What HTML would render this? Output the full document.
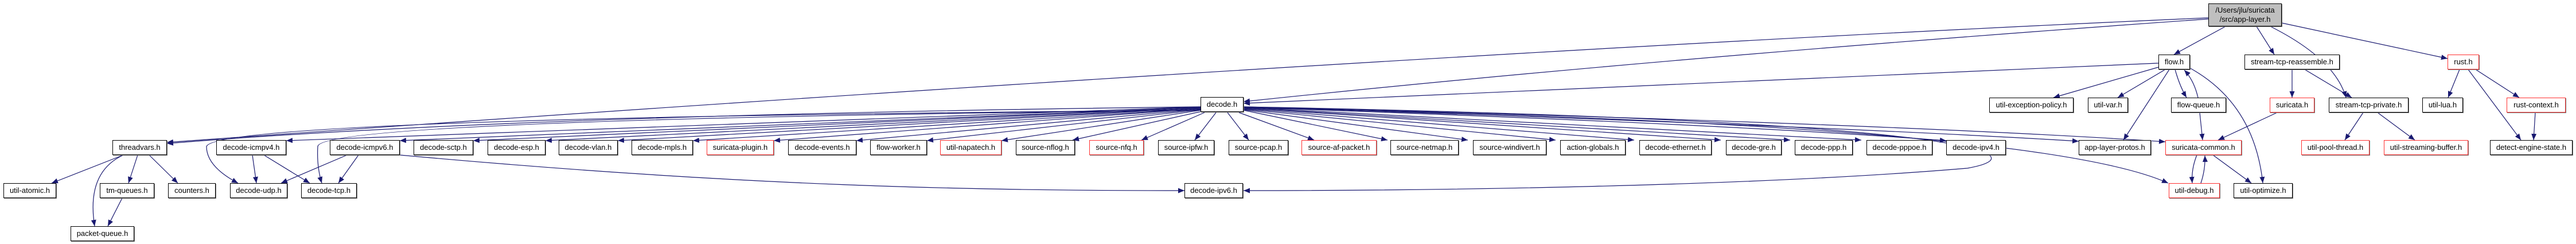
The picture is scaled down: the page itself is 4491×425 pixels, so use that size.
<!DOCTYPE html>
<html><head><meta charset="utf-8"><style>
html,body{margin:0;padding:0;background:#fff}
#c{position:relative;width:4491px;height:425px;overflow:hidden;background:#fff}
.n{position:absolute;box-sizing:border-box;border:1px solid #000;background:#fff;font-family:"Liberation Sans",sans-serif;font-size:13px;color:#000;text-align:center;line-height:24px;height:26px;white-space:nowrap;box-shadow:1px 1px 0 #777}
.r{border-color:#ff3030}
svg{position:absolute;left:0;top:0}
</style></head><body><div id="c">
<svg width="4491" height="425" viewBox="0 0 4491 425">
<defs><marker id="a" markerUnits="userSpaceOnUse" markerWidth="12" markerHeight="10" refX="11" refY="4.5" orient="auto"><path d="M0,0 L11,4.5 L0,9 z" fill="#191970"/></marker></defs>
<g fill="none" stroke="#191970" stroke-width="1.2" marker-end="url(#a)">
<!-- top node -->
<path d="M3851,31 Q2500,90 291,248"/>
<path d="M3851,33 Q2900,100 2168,177"/>
<path d="M3880,46 L3790,95"/>
<path d="M3934,46 L3965,95"/>
<path d="M3950,42 Q4070,100 4090,170"/>
<path d="M3978,40 L4267,102"/>
<!-- flow.h -->
<path d="M3763,110 Q3000,140 2168,180"/>
<path d="M3763,117 L3580,170"/>
<path d="M3775,121 L3692,170"/>
<path d="M3792,121 Q3800,150 3812,170"/>
<path d="M3832,170 Q3825,140 3808,122"/>
<path d="M3782,121 L3702,244"/>
<path d="M3817,118 Q3930,180 3945,319"/>
<path d="M3835,196 L3840,244"/>
<path d="M3970,196 L3867,244"/>
<path d="M3996,121 L3996,170"/>
<path d="M4018,121 L4100,170"/>
<path d="M4120,196 L4088,244"/>
<path d="M4145,196 L4210,244"/>
<path d="M4288,121 L4268,170"/>
<path d="M4316,121 L4392,170"/>
<path d="M4303,121 L4395,244"/>
<path d="M4420,196 L4417,244"/>
<path d="M3830,270 Q3820,295 3822,319"/>
<path d="M3837,319 Q3845,295 3844,271"/>
<path d="M3858,270 L3925,319"/>
<!-- decode.h left -->
<path d="M2093,186 Q900,200 291,250"/>
<path d="M2093,186 L499,245"/>
<path d="M2093,187 L697,245"/>
<path d="M2093,187 L825,245"/>
<path d="M2093,188 L951,245"/>
<path d="M2093,188 L1077,245"/>
<path d="M2093,189 L1208,245"/>
<path d="M2093,189 L1349,245"/>
<path d="M2093,190 L1493,245"/>
<path d="M2093,191 L1616,245"/>
<path d="M2093,192 L1746,245"/>
<path d="M2095,194 L1870,244"/>
<path d="M2100,196 L1990,244"/>
<path d="M2120,196 L2083,244"/>
<path d="M2140,196 L2177,244"/>
<path d="M2093,192 Q380,205 360,255 Q360,290 415,319"/>
<path d="M2093,192 Q560,208 554,255 Q552,290 561,319"/>
<!-- decode.h right -->
<path d="M2160,196 L2291,244"/>
<path d="M2168,192 L2419,244"/>
<path d="M2168,191 L2559,244"/>
<path d="M2168,190 L2712,244"/>
<path d="M2168,189 L2849,244"/>
<path d="M2168,188 L3000,244"/>
<path d="M2168,188 L3121,244"/>
<path d="M2168,187 L3245,244"/>
<path d="M2168,187 Q3000,215 3393,245"/>
<path d="M2168,186 Q3200,220 3624,246"/>
<path d="M2168,186 Q3300,215 3775,247"/>
<path d="M2168,188 Q3550,215 3780,319"/>
<path d="M2168,186 C3450,210 3560,270 3430,293 C3050,325 2500,332 2168,332"/>
<path d="M697,270 C1300,325 1700,332 2065,332"/>
<!-- threadvars etc -->
<path d="M215,270 L90,319"/>
<path d="M240,270 L224,319"/>
<path d="M260,270 L310,319"/>
<path d="M215,270 Q150,300 165,394"/>
<path d="M213,345 L188,394"/>
<path d="M440,270 L447,319"/>
<path d="M460,270 L540,319"/>
<path d="M605,270 L490,319"/>
<path d="M625,270 L590,319"/>
</g></svg>
<div class="n" style="left:3850px;top:6px;width:128px;height:40px;line-height:16px;padding-top:3px;background:#bfbfbf">/Users/jlu/suricata<br>/src/app-layer.h</div>
<div class="n" style="left:3763px;top:95px;width:55px">flow.h</div>
<div class="n" style="left:3913px;top:95px;width:166px">stream-tcp-reassemble.h</div>
<div class="n r" style="left:4267px;top:95px;width:55px">rust.h</div>
<div class="n" style="left:2093px;top:169px;width:75px">decode.h</div>
<div class="n" style="left:3468px;top:170px;width:147px">util-exception-policy.h</div>
<div class="n" style="left:3640px;top:170px;width:70px">util-var.h</div>
<div class="n" style="left:3785px;top:170px;width:96px">flow-queue.h</div>
<div class="n r" style="left:3957px;top:170px;width:78px">suricata.h</div>
<div class="n" style="left:4060px;top:170px;width:139px">stream-tcp-private.h</div>
<div class="n" style="left:4223px;top:170px;width:71px">util-lua.h</div>
<div class="n r" style="left:4370px;top:170px;width:103px">rust-context.h</div>
<div class="n" style="left:196px;top:244px;width:95px">threadvars.h</div>
<div class="n" style="left:377px;top:244px;width:122px">decode-icmpv4.h</div>
<div class="n" style="left:575px;top:244px;width:122px">decode-icmpv6.h</div>
<div class="n" style="left:721px;top:244px;width:104px">decode-sctp.h</div>
<div class="n" style="left:850px;top:244px;width:101px">decode-esp.h</div>
<div class="n" style="left:974px;top:244px;width:103px">decode-vlan.h</div>
<div class="n" style="left:1101px;top:244px;width:107px">decode-mpls.h</div>
<div class="n r" style="left:1232px;top:244px;width:117px">suricata-plugin.h</div>
<div class="n" style="left:1374px;top:244px;width:119px">decode-events.h</div>
<div class="n" style="left:1517px;top:244px;width:99px">flow-worker.h</div>
<div class="n r" style="left:1639px;top:244px;width:107px">util-napatech.h</div>
<div class="n" style="left:1771px;top:244px;width:103px">source-nflog.h</div>
<div class="n r" style="left:1899px;top:244px;width:95px">source-nfq.h</div>
<div class="n" style="left:2019px;top:244px;width:98px">source-ipfw.h</div>
<div class="n" style="left:2142px;top:244px;width:104px">source-pcap.h</div>
<div class="n r" style="left:2269px;top:244px;width:131px">source-af-packet.h</div>
<div class="n" style="left:2424px;top:244px;width:119px">source-netmap.h</div>
<div class="n" style="left:2568px;top:244px;width:128px">source-windivert.h</div>
<div class="n" style="left:2720px;top:244px;width:114px">action-globals.h</div>
<div class="n" style="left:2858px;top:244px;width:126px">decode-ethernet.h</div>
<div class="n" style="left:3009px;top:244px;width:97px">decode-gre.h</div>
<div class="n" style="left:3129px;top:244px;width:101px">decode-ppp.h</div>
<div class="n" style="left:3254px;top:244px;width:115px">decode-pppoe.h</div>
<div class="n" style="left:3393px;top:244px;width:104px">decode-ipv4.h</div>
<div class="n" style="left:3624px;top:244px;width:126px">app-layer-protos.h</div>
<div class="n r" style="left:3775px;top:244px;width:133px">suricata-common.h</div>
<div class="n r" style="left:4012px;top:244px;width:119px">util-pool-thread.h</div>
<div class="n r" style="left:4156px;top:244px;width:147px">util-streaming-buffer.h</div>
<div class="n" style="left:4341px;top:244px;width:144px">detect-engine-state.h</div>
<div class="n" style="left:6px;top:319px;width:92px">util-atomic.h</div>
<div class="n" style="left:174px;top:319px;width:95px">tm-queues.h</div>
<div class="n" style="left:293px;top:319px;width:83px">counters.h</div>
<div class="n" style="left:401px;top:319px;width:100px">decode-udp.h</div>
<div class="n" style="left:525px;top:319px;width:97px">decode-tcp.h</div>
<div class="n" style="left:2065px;top:319px;width:102px">decode-ipv6.h</div>
<div class="n r" style="left:3781px;top:319px;width:89px">util-debug.h</div>
<div class="n" style="left:3894px;top:319px;width:103px">util-optimize.h</div>
<div class="n" style="left:123px;top:394px;width:111px">packet-queue.h</div>
</div></body></html>
